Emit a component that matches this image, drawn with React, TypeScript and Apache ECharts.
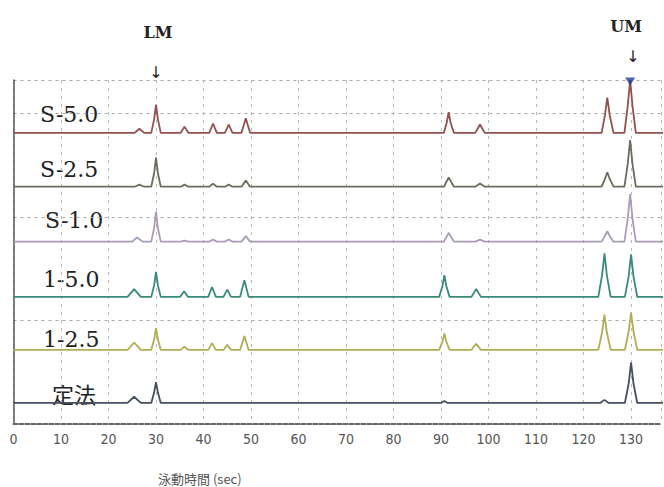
import React, { useEffect, useRef } from "react";
import * as echarts from "echarts";

// Trace names (top to bottom)
const traceNames = ["S-5.0", "S-2.5", "S-1.0", "1-5.0", "1-2.5", "定法"];
// Vertical baseline offset of each trace (signal units)
const traceOffsets = [28.1, 22.9, 17.6, 12.27, 7.15, 2.03];
const traceColors = ["#94504f", "#6c6c5e", "#a99cb6", "#3a8a7a", "#b3ad55", "#465060"];

// Signal of each trace: [time (sec), signal above baseline]
const sigS50 = [
  [0, 0], [25.5, 0], [26.5, 0.4], [27.5, 0],
  [29.0, 0], [29.6, 1.3], [30.0, 2.7], [30.4, 1.3], [31.0, 0],
  [35.2, 0], [36.0, 0.6], [36.8, 0],
  [41.2, 0], [42.0, 0.9], [42.8, 0],
  [44.5, 0], [45.3, 0.8], [46.1, 0],
  [48.0, 0], [48.9, 1.4], [49.8, 0],
  [90.6, 0], [91.2, 1.0], [91.6, 2.0], [92.0, 1.0], [92.7, 0],
  [97.2, 0], [98.2, 0.8], [99.2, 0],
  [123.8, 0], [124.5, 1.7], [125.0, 3.4], [125.5, 1.7], [126.3, 0],
  [128.6, 0], [129.3, 2.6], [129.8, 5.1], [130.3, 2.6], [131.0, 0],
  [137, 0],
];
const sigS25 = [
  [0, 0], [25.5, 0], [26.5, 0.2], [27.5, 0],
  [29.0, 0], [29.6, 1.3], [30.0, 2.8], [30.4, 1.3], [31.0, 0],
  [35.2, 0], [36.0, 0.2], [36.8, 0],
  [41.2, 0], [42.0, 0.3], [42.8, 0],
  [44.5, 0], [45.3, 0.2], [46.1, 0],
  [48.0, 0], [48.9, 0.6], [49.8, 0],
  [90.6, 0], [91.6, 0.9], [92.7, 0],
  [97.2, 0], [98.2, 0.3], [99.2, 0],
  [123.8, 0], [124.5, 0.75], [125.0, 1.4], [125.5, 0.75], [126.3, 0],
  [128.6, 0], [129.3, 2.2], [129.8, 4.5], [130.3, 2.2], [131.0, 0],
  [137, 0],
];
const sigS10 = [
  [0, 0], [25.0, 0], [26.0, 0.4], [27.2, 0],
  [29.0, 0], [29.6, 1.3], [30.0, 2.9], [30.4, 1.3], [31.0, 0],
  [35.2, 0], [36.0, 0.1], [36.8, 0],
  [41.2, 0], [42.0, 0.2], [42.8, 0],
  [44.5, 0], [45.3, 0.2], [46.1, 0],
  [48.0, 0], [48.9, 0.55], [49.8, 0],
  [90.6, 0], [91.6, 0.85], [92.7, 0],
  [97.2, 0], [98.2, 0.2], [99.2, 0],
  [123.8, 0], [124.5, 0.55], [125.0, 1.0], [125.5, 0.55], [126.3, 0],
  [128.6, 0], [129.3, 2.2], [129.8, 4.6], [130.3, 2.2], [131.0, 0],
  [137, 0],
];
const sig150 = [
  [0, 0], [24.0, 0], [25.4, 0.75], [26.8, 0],
  [29.0, 0], [29.6, 1.1], [30.0, 2.4], [30.4, 1.1], [31.0, 0],
  [35.1, 0], [35.9, 0.55], [36.7, 0],
  [41.0, 0], [41.8, 0.95], [42.6, 0],
  [44.2, 0], [45.0, 0.7], [45.8, 0],
  [47.7, 0], [48.6, 1.6], [49.5, 0],
  [89.6, 0], [90.3, 1.05], [90.7, 2.1], [91.1, 1.05], [91.8, 0],
  [96.4, 0], [97.4, 0.75], [98.4, 0],
  [123.1, 0], [123.9, 2.1], [124.4, 4.2], [124.9, 2.1], [125.7, 0],
  [128.7, 0], [129.5, 2.0], [130.0, 4.1], [130.5, 2.0], [131.3, 0],
  [137, 0],
];
const sig125 = [
  [0, 0], [24.0, 0], [25.4, 0.7], [26.8, 0],
  [29.0, 0], [29.6, 1.0], [30.0, 2.1], [30.4, 1.0], [31.0, 0],
  [35.2, 0], [36.0, 0.3], [36.8, 0],
  [41.0, 0], [41.8, 0.65], [42.6, 0],
  [44.2, 0], [45.0, 0.5], [45.8, 0],
  [47.7, 0], [48.6, 1.35], [49.5, 0],
  [89.6, 0], [90.3, 0.8], [90.7, 1.6], [91.1, 0.8], [91.8, 0],
  [96.4, 0], [97.4, 0.6], [98.4, 0],
  [123.1, 0], [123.9, 1.7], [124.4, 3.4], [124.9, 1.7], [125.7, 0],
  [128.7, 0], [129.5, 1.8], [130.0, 3.6], [130.5, 1.8], [131.3, 0],
  [137, 0],
];
const sigStd = [
  [0, 0], [24.0, 0], [25.4, 0.6], [26.8, 0],
  [29.0, 0], [29.6, 1.0], [30.0, 2.0], [30.4, 1.0], [31.0, 0],
  [90.0, 0], [90.7, 0.2], [91.4, 0],
  [123.5, 0], [124.4, 0.3], [125.3, 0],
  [128.7, 0], [129.5, 1.9], [130.0, 3.9], [130.5, 1.9], [131.3, 0],
  [137, 0],
];
const traceSignals = [sigS50, sigS25, sigS10, sig150, sig125, sigStd];

const xTicks = [0, 10, 20, 30, 40, 50, 60, 70, 80, 90, 100, 110, 120, 130];

export default function App() {
  const ref = useRef<HTMLDivElement>(null);
  useEffect(() => {
    if (!ref.current) return;
    const chart = echarts.init(ref.current, undefined, { renderer: "svg" });
    const series: any[] = traceSignals.map((sig, i) => ({
      type: "line",
      name: traceNames[i],
      data: sig.map(([t, v]) => [t, +(v + traceOffsets[i]).toFixed(3)]),
      showSymbol: false,
      symbol: "none",
      lineStyle: { color: traceColors[i], width: 1.8 },
      z: 3,
      silent: true,
    }));
    // blue triangle at UM peak top of S-5.0
    const umTop = sigS50.reduce((m, p) => (p[1] > m[1] ? p : m), [0, 0]);
    series.push({
      type: "scatter",
      data: [[umTop[0], umTop[1] + traceOffsets[0] - 0.15]],
      symbol: "triangle",
      symbolRotate: 180,
      symbolSize: [10, 8],
      itemStyle: { color: "#1f3a9a" },
      z: 5,
      silent: true,
    });

    const labelY = [114, 169, 220, 279, 339, 393];
    const labelX = [40, 40, 45, 43, 43, 52];
    const graphics: any[] = traceNames.map((n, i) => ({
      type: "text",
      x: labelX[i],
      y: labelY[i],
      style: {
        text: n,
        font: i === 5 ? "22px 'Noto Sans CJK JP'" : "22px 'DejaVu Serif'",
        fill: "#222",
        verticalAlign: "middle",
        align: "left",
      },
    }));
    graphics.push(
      { type: "text", x: 158, y: 32, style: { text: "LM", font: "bold 16px 'DejaVu Serif'", fill: "#222", align: "center", verticalAlign: "middle" } },
      { type: "text", x: 156, y: 72, style: { text: "↓", font: "16px 'DejaVu Sans'", fill: "#222", align: "center", verticalAlign: "middle" } },
      { type: "text", x: 626, y: 26, style: { text: "UM", font: "bold 16px 'DejaVu Serif'", fill: "#222", align: "center", verticalAlign: "middle" } },
      { type: "text", x: 633, y: 56, style: { text: "↓", font: "16px 'DejaVu Sans'", fill: "#222", align: "center", verticalAlign: "middle" } },
      { type: "text", x: 158, y: 478, style: { text: "泳動時間 (sec)", font: "13px 'Noto Sans CJK JP'", fill: "#555", align: "left", verticalAlign: "middle" } }
    );

    chart.setOption({
      animation: false,
      backgroundColor: "#ffffff",
      grid: { left: 13.5, right: 0, top: 80, bottom: 63 },
      xAxis: {
        type: "value",
        min: 0,
        max: 136.3,
        interval: 10,
        offset: 4,
        axisLine: { show: true, lineStyle: { color: "#666", width: 2, type: [4, 2] } },
        axisTick: { show: false },
        axisLabel: {
          color: "#555",
          fontFamily: "'DejaVu Sans Condensed', 'Liberation Sans Narrow', sans-serif",
          fontSize: 14,
          margin: 4,
          formatter: (v: number) => (xTicks.includes(v) ? String(v) : ""),
        },
        splitLine: { show: true, lineStyle: { color: "#b8b8b8", type: [3, 5], width: 1 } },
      },
      yAxis: {
        type: "value",
        min: 0,
        max: 33.2,
        interval: 10,
        axisLine: { show: true, lineStyle: { color: "#555", width: 1.5 } },
        axisTick: { show: false },
        axisLabel: { show: false },
        splitLine: { show: true, lineStyle: { color: "#a8a8a8", type: [3, 4], width: 1 } },
      },
      series,
      graphic: graphics,
    });
    return () => chart.dispose();
  }, []);
  return <div ref={ref} style={{ width: 664, height: 487, position: "absolute", left: 0, top: 0 }} />;
}
